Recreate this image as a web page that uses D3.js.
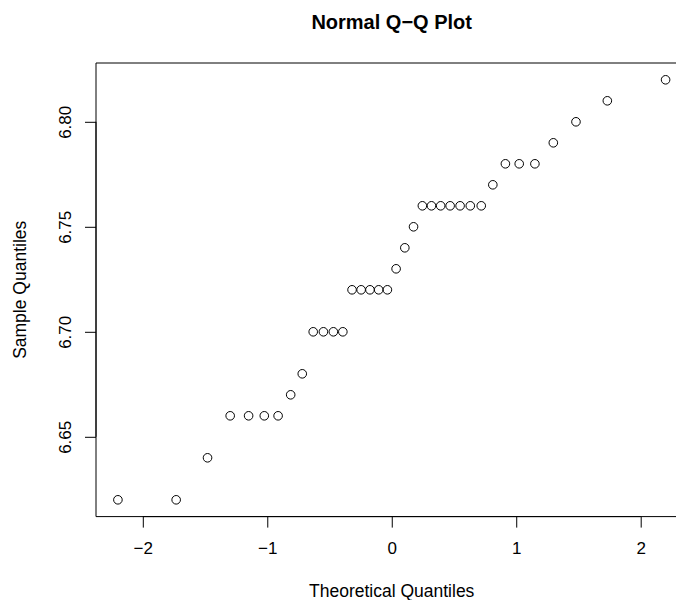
<!DOCTYPE html>
<html>
<head>
<meta charset="utf-8">
<script src="https://cdn.jsdelivr.net/npm/d3@7"></script>
<style>
  html, body { margin: 0; background: #fff; overflow: hidden; }
  svg { display: block; overflow: hidden; }
  text { font-family: "Liberation Sans", Arial, sans-serif; }
</style>
</head>
<body>
<svg width="676" height="600"></svg>
<script>
// theoretical quantiles (n = 36)
const theoretical = [
  -2.200, -1.732, -1.480, -1.298, -1.150, -1.024, -0.913, -0.812, -0.719,
  -0.631, -0.549, -0.469, -0.393, -0.319, -0.246, -0.175, -0.105, -0.035,
  0.035, 0.105, 0.175, 0.246, 0.319, 0.393, 0.469, 0.549, 0.631,
  0.719, 0.812, 0.913, 1.024, 1.150, 1.298, 1.480, 1.732, 2.200
];
const sample = [
  6.62, 6.62, 6.64, 6.66, 6.66, 6.66, 6.66, 6.67, 6.68,
  6.70, 6.70, 6.70, 6.70, 6.72, 6.72, 6.72, 6.72, 6.72,
  6.73, 6.74, 6.75, 6.76, 6.76, 6.76, 6.76, 6.76, 6.76,
  6.76, 6.77, 6.78, 6.78, 6.78, 6.79, 6.80, 6.81, 6.82
];
const xTicks = [-2, -1, 0, 1, 2];
const yTicks = [6.65, 6.70, 6.75, 6.80];

const svg = d3.select("svg");
const width = +svg.attr("width");

const plotLeft = 96;
const plotRight = 687.5;
const plotTop = 63;
const plotBottom = 516.6;

const x = d3.scaleLinear().domain([-2.376, 2.376]).range([plotLeft, plotRight]);
const y = d3.scaleLinear().domain([6.612, 6.828]).range([plotBottom, plotTop]);

// box: its right side lies past the page edge, so only three sides show
svg.append("path")
  .attr("d", `M${width},${plotTop}H${plotLeft}V${plotBottom}H${width}`)
  .attr("fill", "none")
  .attr("stroke", "black")
  .attr("stroke-width", 1);

const xAxis = svg.append("g")
  .attr("transform", `translate(0, ${plotBottom})`)
  .call(d3.axisBottom(x).tickValues(xTicks).tickSize(11).tickSizeOuter(0).tickPadding(14)
    .tickFormat(d => d < 0 ? "\u2212" + Math.abs(d) : d));
xAxis.select(".domain").attr("d", `M${x(-2)},0H${x(2)}`);
xAxis.selectAll("text")
  .attr("font-size", 17)
  .attr("font-family", "Liberation Sans, Arial, sans-serif")
  .attr("fill", "black");

const yAxis = svg.append("g")
  .attr("transform", `translate(${plotLeft}, 0)`)
  .call(d3.axisLeft(y).tickValues(yTicks).tickSize(11).tickSizeOuter(0)
    .tickFormat(d3.format(".2f")));
yAxis.select(".domain").attr("d", `M0,${y(6.65)}V${y(6.80)}`);
yAxis.selectAll("text")
  .attr("x", 0)
  .attr("y", 0)
  .attr("dy", "0.35em")
  .attr("text-anchor", "middle")
  .attr("transform", "translate(-31, 0) rotate(-90)")
  .attr("font-size", 17)
  .attr("font-family", "Liberation Sans, Arial, sans-serif")
  .attr("fill", "black");

// points
svg.append("g")
  .selectAll("circle")
  .data(theoretical)
  .join("circle")
  .attr("cx", d => x(d))
  .attr("cy", (d, i) => y(sample[i]))
  .attr("r", 4.3)
  .attr("fill", "none")
  .attr("stroke", "black")
  .attr("stroke-width", 1);

// title and axis labels
svg.append("text")
  .attr("x", 391.7)
  .attr("y", 29)
  .attr("text-anchor", "middle")
  .attr("font-size", 20)
  .attr("font-weight", "bold")
  .text("Normal Q\u2212Q Plot");

svg.append("text")
  .attr("x", 391.7)
  .attr("y", 597)
  .attr("text-anchor", "middle")
  .attr("font-size", 17.5)
  .text("Theoretical Quantiles");

svg.append("text")
  .attr("transform", `translate(26, ${(plotTop + plotBottom) / 2}) rotate(-90)`)
  .attr("text-anchor", "middle")
  .attr("font-size", 17.5)
  .text("Sample Quantiles");
</script>
</body>
</html>
